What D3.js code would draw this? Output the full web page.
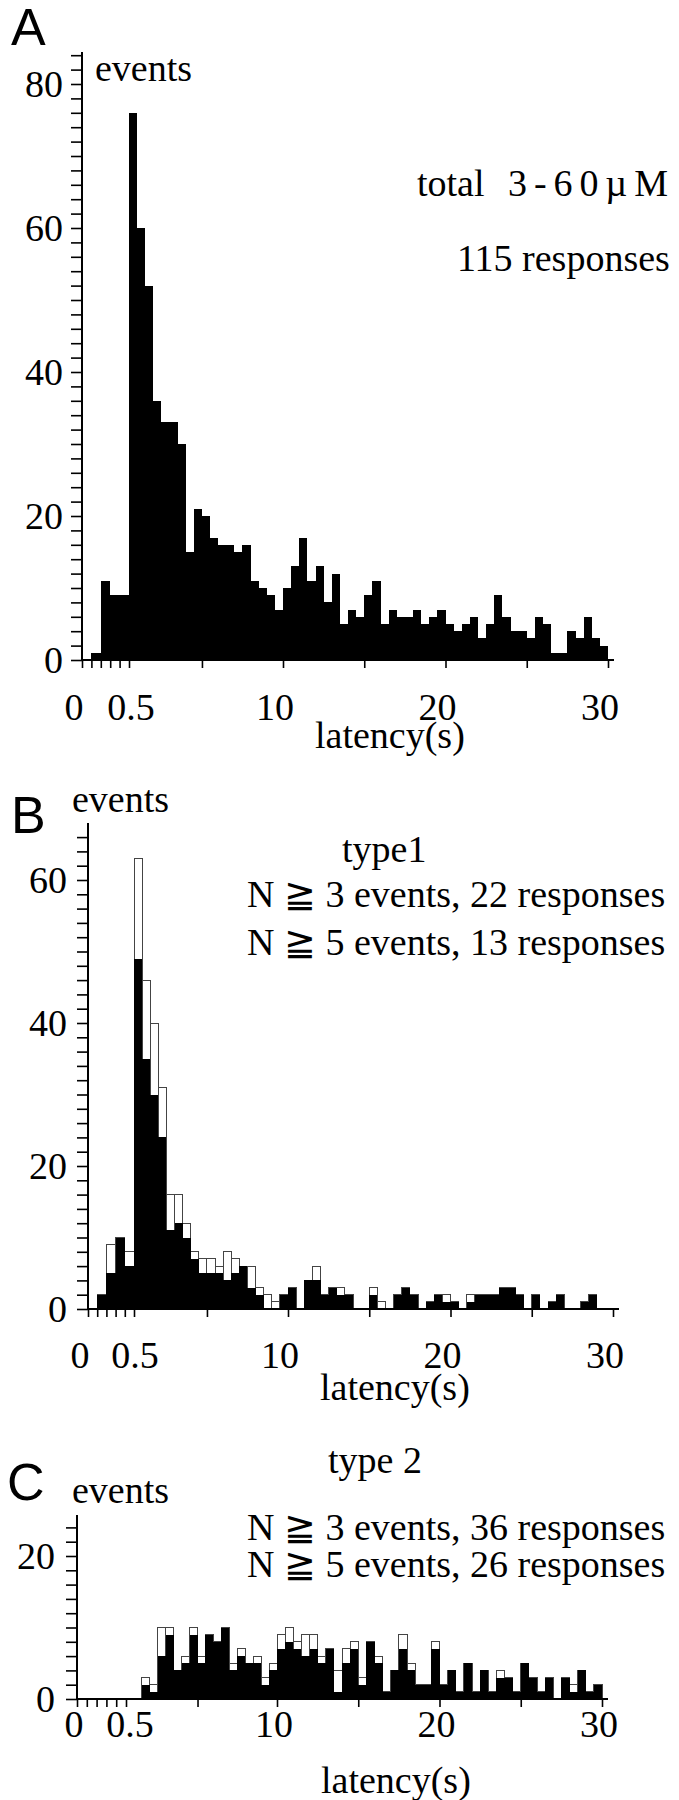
<!DOCTYPE html>
<html><head><meta charset="utf-8">
<script src="https://cdn.jsdelivr.net/npm/d3@7"></script>
<style>
body{margin:0;background:#fff;}
svg{display:block;}
text{font-family:"Liberation Serif","Times New Roman","DejaVu Serif",serif;fill:#000;}
.letter{font-family:"Liberation Sans",Arial,sans-serif;}
</style></head><body>
<svg id="chart" width="679" height="1800"></svg>
<script>
// ---- data ----
const binStarts = [0.1,0.2,0.3,0.4,
  0.5,1,1.5,2,2.5,3,3.5,4,4.5,5,
  5.5,6,6.5,7,7.5,8,8.5,9,9.5,10,
  10.5,11,11.5,12,12.5,13,13.5,14,14.5,15,
  15.5,16,16.5,17,17.5,18,18.5,19,19.5,20,
  20.5,21,21.5,22,22.5,23,23.5,24,24.5,25,
  25.5,26,26.5,27,27.5,28,28.5,29,29.5];
const binEnd = 30;

const totalEvents = [1,11,9,9,
  76,60,52,36,33,33,30,15,21,20,
  17,16,16,15,16,11,10,9,7,10,
  13,17,11,13,8,12,5,7,6,9,
  11,5,7,6,6,7,5,6,7,5,
  4,5,6,3,5,9,6,4,4,3,
  6,5,1,1,4,3,6,3,2];

const type1N3 = [2,9,10,8,
  63,46,40,31,16,16,12,8,7,7,
  6,8,7,6,6,3,2,1,2,3,
  0,4,6,2,3,3,2,0,0,3,
  1,0,2,3,2,0,1,2,2,1,
  0,2,2,2,2,3,3,2,0,2,
  0,1,2,0,0,1,2,0,0];
const type1N5 = [2,5,10,6,
  49,35,30,24,11,12,10,7,5,5,
  5,4,5,6,3,2,0,0,2,3,
  0,4,4,2,3,2,2,0,0,2,
  0,0,2,3,2,0,1,2,1,1,
  0,1,2,2,2,3,3,2,0,2,
  0,1,2,0,0,1,2,0,0];

const type2N3 = [0,0,0,0,
  0,0,3,2,10,10,4,6,10,6,
  9,8,10,5,7,5,6,3,5,9,
  10,8,9,9,6,7,4,7,8,3,
  8,6,1,4,9,5,2,2,8,2,
  4,1,5,1,4,1,4,3,1,5,
  3,1,3,0,3,2,4,1,2];
const type2N5 = [0,0,0,0,
  0,0,2,1,6,9,4,5,9,5,
  9,8,10,4,6,5,5,2,4,7,
  8,7,6,7,5,7,1,5,7,2,
  8,5,1,4,7,4,2,2,7,2,
  4,1,5,1,4,1,3,3,1,5,
  3,1,3,0,3,1,4,1,2];

const xTickValues = [0,0.1,0.2,0.3,0.4,0.5,5,10,15,20,25,30];
const xLabelValues = [0,0.5,10,20,30];
const xLabelTexts = ["0","0.5","10","20","30"];
const yLabelStep = 20;

const textA = ["total","3-60\u00B5M","115 responses"];
const textB = ["type1","N \u2267 3 events, 22 responses","N \u2267 5 events, 13 responses"];
const textC = ["type 2","N \u2267 3 events, 36 responses","N \u2267 5 events, 26 responses"];

// ---- drawing ----
const svg = d3.select("#chart");
const bins = binStarts.map((s,i)=>({s, e: i<binStarts.length-1 ? binStarts[i+1] : binEnd}));

const panels = [
  {letter:"A", letterPos:[11,45], xr:[82,129,283,608], yd:[0,80], yr:[660,84], yMaxTick:84, yTopPx:52,
   series:[{vals:totalEvents, fill:"#000", stroke:"none"}],
   labelPad:8, xLabY:720, lblShift:-8, halfShift:2, latency:[315,748], events:[95,81],
   notes:[{t:textA[0],x:417,y:196},{t:textA[1],x:508,y:196,len:160},{t:textA[2],x:457,y:271}]},
  {letter:"B", letterPos:[11,833], xr:[88,134,288,613], yd:[0,60], yr:[1309,880], yMaxTick:66, yTopPx:823,
   series:[{vals:type1N3, fill:"#fff", stroke:"#444"},{vals:type1N5, fill:"#000", stroke:"none"}],
   labelPad:10, xLabY:1368, lblShift:-8, halfShift:1, latency:[320,1400], events:[72,812],
   notes:[{t:textB[0],x:342,y:862},{t:textB[1],x:247,y:907},{t:textB[2],x:247,y:955}]},
  {letter:"C", letterPos:[7,1500], xr:[77,126,277,602], yd:[0,20], yr:[1699,1556], yMaxTick:24, yTopPx:1515,
   series:[{vals:type2N3, fill:"#fff", stroke:"#444"},{vals:type2N5, fill:"#000", stroke:"none"}],
   labelPad:11, xLabY:1737, lblShift:-3, halfShift:4, latency:[321,1793], events:[72,1503],
   notes:[{t:textC[0],x:328,y:1473},{t:textC[1],x:247,y:1540},{t:textC[2],x:247,y:1577}]}
];

const FS = 38;

panels.forEach(p=>{
  const g = svg.append("g");
  const x = d3.scaleLinear().domain([0,0.5,10,30]).range(p.xr);
  const y = d3.scaleLinear().domain(p.yd).range(p.yr);

  // bars
  p.series.forEach(sr=>{
    g.append("g").selectAll("rect")
      .data(bins.map((b,i)=>({...b, v: sr.vals[i]})).filter(d=>d.v>0))
      .join("rect")
      .attr("x", d=>x(d.s))
      .attr("width", d=>x(d.e)-x(d.s))
      .attr("y", d=>y(d.v))
      .attr("height", d=>y(0)-y(d.v))
      .attr("fill", sr.fill)
      .attr("stroke", sr.stroke)
      .attr("stroke-width", sr.stroke==="none"?0:1)
      .attr("shape-rendering", "crispEdges");
  });

  // y axis
  const yAxis = d3.axisLeft(y)
    .tickValues(d3.range(0, p.yMaxTick+1, 2))
    .tickSize(11)
    .tickPadding(p.labelPad)
    .tickFormat(d => d % yLabelStep === 0 ? d : "");
  const ya = g.append("g").attr("transform",`translate(${x(0)},0)`).call(yAxis);
  ya.select(".domain").remove();
  ya.selectAll(".tick line").attr("stroke","#000").attr("stroke-width",1.6);
  ya.selectAll(".tick text").attr("font-size",FS).attr("fill","#000");
  g.append("line").attr("x1",x(0)).attr("x2",x(0)).attr("y1",p.yTopPx).attr("y2",y(0))
    .attr("stroke","#000").attr("stroke-width",2);

  // x axis
  const xAxis = d3.axisBottom(x).tickValues(xTickValues).tickSize(8).tickFormat("");
  const xa = g.append("g").attr("transform",`translate(0,${y(0)})`).call(xAxis);
  xa.select(".domain").remove();
  xa.selectAll(".tick line").attr("stroke","#000").attr("stroke-width",1.6);
  g.append("line").attr("x1",x(0)).attr("x2",x(30)+6).attr("y1",y(0)).attr("y2",y(0))
    .attr("stroke","#000").attr("stroke-width",2);

  g.append("g").selectAll("text").data(xLabelValues).join("text")
    .attr("x",(d)=>x(d) + (d===0.5 ? p.halfShift : p.lblShift))
    .attr("y",p.xLabY)
    .attr("text-anchor","middle")
    .attr("font-size",FS)
    .text((d,i)=>xLabelTexts[i]);

  g.append("text").attr("x",p.latency[0]).attr("y",p.latency[1]).attr("font-size",FS).text("latency(s)");
  g.append("text").attr("x",p.events[0]).attr("y",p.events[1]).attr("font-size",FS).text("events");
  g.append("text").attr("class","letter").attr("x",p.letterPos[0]).attr("y",p.letterPos[1])
    .attr("font-size",52).text(p.letter);

  const notes = g.append("g").selectAll("text").data(p.notes).join("text")
    .attr("x",d=>d.x).attr("y",d=>d.y).attr("font-size",FS)
    .text(d=>d.t);
  notes.filter(d=>d.len).attr("textLength",d=>d.len).attr("lengthAdjust","spacing");
});
</script>
</body></html>
